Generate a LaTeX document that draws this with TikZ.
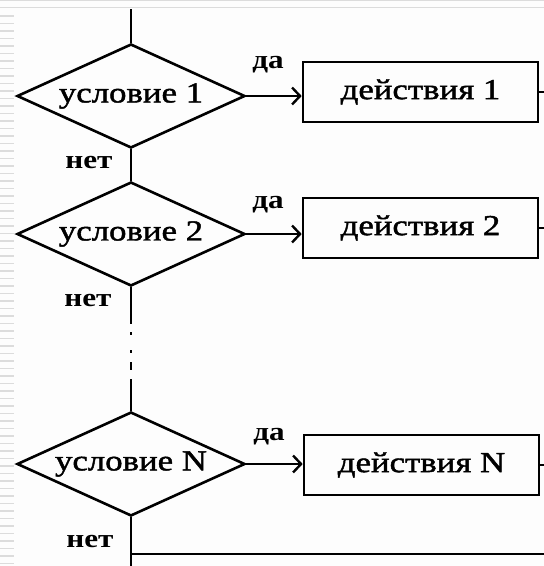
\documentclass[tikz,border=0pt]{standalone}
\usepackage{fontspec}
\newfontfamily\mainlbl[FakeStretch=1.2,FakeBold=1.5]{Liberation Serif}
\newfontfamily\smalllbl[FakeStretch=1.2]{Liberation Serif Bold}
\usetikzlibrary{shapes.geometric,arrows.meta}
\definecolor{paper}{HTML}{FDFDFD}
\definecolor{rule}{HTML}{DCDCDC}
\tikzset{
  flow/.style={line width=2.6pt},
  cond/.style={diamond, draw, line width=2.6pt, inner sep=0pt, aspect=2.2,
    minimum width=228pt, minimum height=104pt, font=\mainlbl\fontsize{29}{30}\selectfont},
  act/.style={rectangle, draw, line width=2.6pt, inner sep=0pt,
    minimum width=235pt, minimum height=60pt, font=\mainlbl\fontsize{29}{30}\selectfont},
  tag/.style={inner sep=0pt, font=\smalllbl\fontsize{26}{27}\selectfont},
  go/.style={flow, line width=2.4pt, -{Straight Barb[length=8pt,width=17pt,line width=2.4pt]}},
}
\begin{document}
\begin{tikzpicture}[x=1pt,y=-1pt]
  % page and slide decorations
  \fill[paper] (0,0) rectangle (544,566);
  \useasboundingbox (0,0) rectangle (544,566);
  \fill[rule] (0,0) rectangle (544,1.2);
  \fill[rule] (0,6.8) rectangle (544,8.4);
  \foreach \k in {0,...,73} {
    \fill[rule] (0,15+7.5*\k) rectangle (14,16.6+7.5*\k);
  }

  % decisions
  \node[cond] (d1) at (131,96) {условие 1};
  \node[cond] (d2) at (131,234) {условие 2};
  \node[cond] (dn) at (131,464) {условие N};

  % actions
  \node[act] (b1) at (420.5,92) {действия 1};
  \node[act] (b2) at (420.5,228) {действия 2};
  \node[act] (bn) at (421.5,465) {действия N};

  % yes / no labels
  \node[tag] at (268,65) {да};
  \node[tag] at (268,205) {да};
  \node[tag] at (269,437) {да};
  \node[tag] at (89,163) {нет};
  \node[tag] at (88,301) {нет};
  \node[tag] at (90,541) {нет};

  % ends of the flow
  \coordinate (start) at (131,9);
  \coordinate (stop) at (131,566);
  \coordinate (exit) at (544,554);

  % main vertical line
  \draw[flow] (start) -- (d1.north);
  \draw[flow] (d1.south) -- (d2.north);
  \draw[flow, dash pattern={on 37pt off 8pt on 3pt off 15pt on 3pt off 9pt on 8pt off 9pt on 200pt}]
    (d2.south) -- (dn.north);
  \draw[flow] (dn.south) -- (stop);
  \draw[flow, line width=2.2pt] (stop |- exit) -- (exit);

  % yes branches
  \draw[go] (d1.east) -- (d1.east -| b1.west);
  \draw[go] (d2.east) -- (d2.east -| b2.west);
  \draw[go] (dn.east) -- (dn.east -| bn.west);

  % outgoing stubs of the actions
  \draw[flow, line width=2pt] (b1.east) -- (b1.east -| exit);
  \draw[flow, line width=2pt] (b2.east) -- (b2.east -| exit);
  \draw[flow, line width=2pt] (bn.east) -- (bn.east -| exit);
\end{tikzpicture}
\end{document}
